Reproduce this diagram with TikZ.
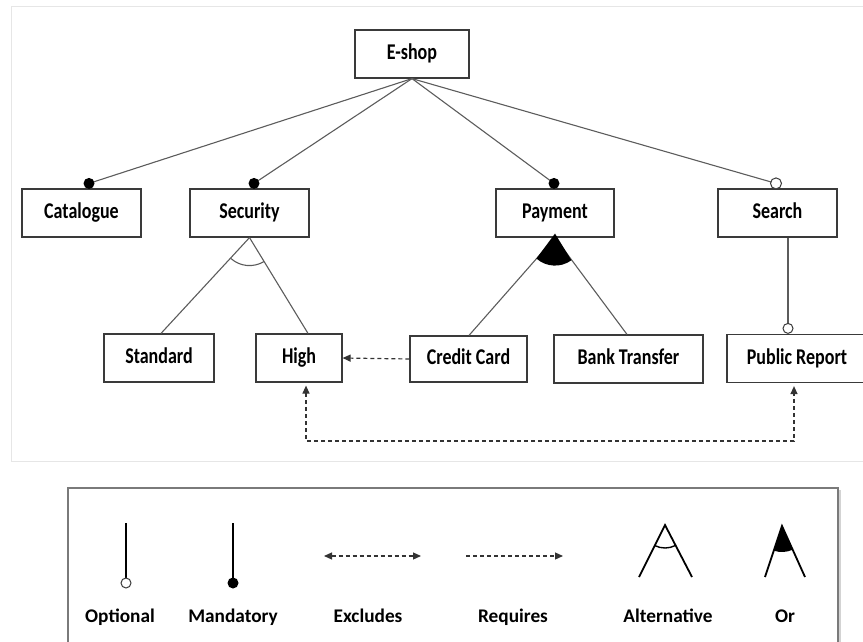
\documentclass[tikz,border=0pt]{standalone}
\usepackage{fontspec}
\setmainfont{Carlito}
\newfontfamily\tallfont[FakeStretch=0.8]{Carlito}
\usetikzlibrary{arrows.meta,shadows,calc}
\definecolor{boxline}{HTML}{3A3A3A}
\definecolor{connline}{HTML}{5C5C5C}
\definecolor{frameline}{HTML}{E6E6E6}
\definecolor{legendline}{HTML}{7A7A7A}
\begin{document}
\begin{tikzpicture}[x=1pt,y=-1pt,
  feature/.style={draw=boxline, line width=1.2pt, fill=white, inner sep=0pt,
    minimum height=48pt, text height=15pt, text depth=4pt,
    font=\tallfont\bfseries\fontsize{22.5}{24}\selectfont},
  conn/.style={draw=connline, line width=1.1pt},
  mand/.style={fill=black},
  opt/.style={draw=boxline, fill=white, line width=1pt},
  tip/.style={-{Triangle[length=8pt,width=7pt]}},
  dashconn/.style={draw=black!80, line width=1.2pt, dash pattern=on 4pt off 3pt},
  legtext/.style={font=\bfseries\fontsize{19.3}{22}\selectfont, text height=14pt, text depth=4pt},
  legline/.style={draw=black, line width=1.8pt},
]
\useasboundingbox (0,0) rectangle (863,642);
\clip (0,0) rectangle (863,642);

% frame around the feature model
\draw[frameline, line width=1pt] (11,7) rectangle (875,461);

% features
\node[feature, minimum width=114pt] (eshop) at (412,54) {E-shop};
\node[feature, minimum width=119pt] (catalogue) at (81.5,213) {Catalogue};
\node[feature, minimum width=119pt] (security) at (249.5,213) {Security};
\node[feature, minimum width=118pt] (payment) at (555,213) {Payment};
\node[feature, minimum width=119pt] (search) at (777.5,213) {Search};
\node[feature, minimum width=110pt] (standard) at (159,358) {Standard};
\node[feature, minimum width=86pt] (high) at (299,358) {High};
\node[feature, minimum width=117pt, minimum height=46pt] (credit) at (468.5,359) {Credit Card};
\node[feature, minimum width=149pt] (bank) at (628.5,359) {Bank Transfer};
\node[feature, minimum width=140pt] (public) at (797,358.5) {Public Report};

% attachment points
\coordinate (cat-in) at ($(catalogue.north)+(7.5,-5)$);
\coordinate (sec-in) at ($(security.north)+(4.5,-5)$);
\coordinate (pay-in) at ($(payment.north)+(-1,-5)$);
\coordinate (sea-in) at ($(search.north)+(-1.5,-5)$);
\coordinate (sea-out) at ($(search.south)+(10.5,0)$);
\coordinate (pub-in) at ($(public.north)+(-9,-5.5)$);
\coordinate (std-in) at ($(standard.north)+(2,0)$);
\coordinate (high-in) at ($(high.north)+(9,0)$);
\coordinate (cc-in) at ($(credit.north)+(0.5,0)$);
\coordinate (bank-in) at ($(bank.north)+(-1.5,0)$);
\coordinate (high-req) at ($(high.south)+(7,3)$);
\coordinate (pub-req) at ($(public.south)+(-3,3)$);
\coordinate (req-l) at (306,441);
\coordinate (req-r) at (794,441);

% root decomposition
\draw[conn] (eshop.south) -- (cat-in);
\draw[conn] (eshop.south) -- (sec-in);
\draw[conn] (eshop.south) -- (pay-in);
\draw[conn] (eshop.south) -- (sea-in);
\fill[mand] (cat-in) circle (5.5);
\fill[mand] (sec-in) circle (5.5);
\fill[mand] (pay-in) circle (5.5);
\filldraw[opt] (sea-in) circle (5.5);

% alternative group under Security
\draw[conn] (security.south) -- (std-in);
\draw[conn] (security.south) -- (high-in);
\draw[conn] ($(security.south)+(132.2:28)$) arc[start angle=132.2, end angle=58.7, radius=28];

% or group under Payment
\draw[conn] (payment.south) -- (cc-in);
\draw[conn] (payment.south) -- (bank-in);
\fill[black] ($(payment.south)+(0,-4)$) -- ($(payment.south)+(131.6:28)$)
  arc[start angle=131.6, end angle=54.1, radius=28] -- cycle;

% optional child of Search
\draw[conn] (sea-out) -- (pub-in);
\filldraw[opt] (pub-in) circle (5);

% cross-tree constraints
\draw[dashconn, tip] (credit.west) -- (high.east);
\draw[dashconn, {Triangle[length=8pt,width=7pt]}-{Triangle[length=8pt,width=7pt]}]
  (high-req) -- (req-l) -- (req-r) -- (pub-req);

% legend
\draw[legendline, line width=1.5pt, fill=white,
  drop shadow={shadow xshift=3pt, shadow yshift=-2pt, opacity=0.35}]
  (68,488) rectangle (838,660);

\draw[legline, line width=1.3pt] (126,523) -- (126,578);
\filldraw[opt] (126,583) circle (5);
\node[legtext] (l-opt) at (120,617) {Optional};

\draw[legline, line width=1.4pt] (233,523) -- (233,578);
\fill[mand] (233,583) circle (5.5);
\node[legtext] (l-mand) at (233,617) {Mandatory};

\draw[dashconn, line width=1.2pt,
  {Triangle[length=8pt,width=7pt]}-{Triangle[length=8pt,width=7pt]}]
  (324,556) -- (421,556);
\node[legtext] (l-excl) at (368,617) {Excludes};

\draw[dashconn, line width=1.2pt, tip] (466,556) -- (563,556);
\node[legtext] (l-req) at (513,617) {Requires};

\draw[legline] (639,577) -- (665,525) -- (692,577);
\draw[legline, line width=1.4pt] ($(665,525)+(116.6:23)$) arc[start angle=116.6, end angle=62.6, radius=23];
\node[legtext] (l-alt) at (668,617) {Alternative};

\draw[legline] (765,577) -- (782,526) -- (805,577);
\fill[black] (782,526) -- ($(782,526)+(108.4:26)$)
  arc[start angle=108.4, end angle=65.7, radius=26] -- cycle;
\node[legtext] (l-or) at (785,617) {Or};
\end{tikzpicture}
\end{document}
